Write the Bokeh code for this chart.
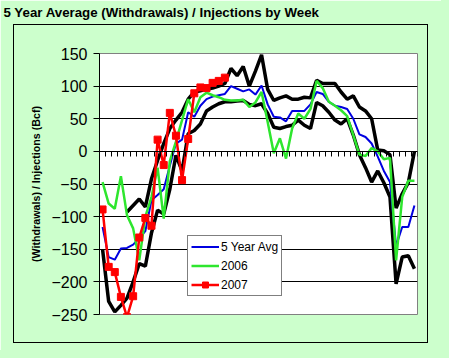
from bokeh.plotting import figure
from bokeh.models import (Range1d, LinearAxis, FixedTicker, Legend, LegendItem, Title,
                          InlineStyleSheet)
from bokeh.embed import file_html
from bokeh.resources import INLINE

nan = float("nan")

# ---- data ----
weeks = list(range(1, 53))

avg_5yr = [-116, -162, -166, -149, -148, -143, -133, -122, -75, -67,
           -58, -22, 12, 18, 60, 53, 70, 80, 84, 86,
           88, 100, 96, 92, 95, 87, 101, 72, 53, 52,
           46, 62, 62, 62, 72, 91, 88, 76, 70, 68,
           65, 50, 26, 22, 12, -8, -30, -47, -145, -116,
           -116, -83]

y2006 = [-47, -80, -88, -38, -98, -118, -167, -100, -70, -25,
         -103, -15, 15, 48, 80, 60, 83, 90, 86, 83,
         79, 78, 78, 79, 68, 75, 91, 45, -3, 20,
         -11, 35, 58, 50, 65, 108, 97, 76, 70, 63,
         54, 25, -5, -7, 5, 0, -12, -10, -167, -70,
         -45, -45]

weeks_2007 = list(range(1, 22))
y2007 = [-89, -177, -185, -223, -254, -222, -132, -102, -114, 18,
         -21, 59, 24, -44, 19, 89, 98, 97, 105, 108,
         113]

max_5yr = [nan, nan, nan, nan, -93, -83, -73, -85, -42, -14,
           12, 35, 48, 60, 80, 91, 93, 95, 97, 100,
           104, 127, 116, 130, 100, 123, 148, 95, 78, 82,
           85, 80, 80, 83, 82, 109, 104, 104, 104, 91,
           80, 85, 68, 62, 50, 2, 1, -5, -87, -65,
           -48, 0]

min_5yr = [-150, -230, -246, -236, -225, -200, -172, -176, -125, -90,
           -96, -58, -6, -30, 27, 32, 42, 62, 68, 73,
           76, 76, 77, 78, 72, 70, 73, 58, 37, 35,
           38, 40, 48, 40, 35, 75, 70, 60, 48, 42,
           50, 25, -5, -25, -47, -30, -48, -70, -203, -162,
           -160, -180]

y_ticks = [-250, -200, -150, -100, -50, 0, 50, 100, 150]
series_labels = ["5 Year Avg", "2006", "2007"]
title_text = "5 Year Average (Withdrawals) / Injections by Week"
y_label = "(Withdrawals) / Injections (Bcf)"

FONT = "Liberation Sans"
BG = "#CCFFCC"

p = figure(width=441, height=350, output_backend="svg", toolbar_location=None,
           x_range=Range1d(weeks[0] - 0.5, weeks[-1] + 0.5),
           y_range=Range1d(y_ticks[0], y_ticks[-1]),
           x_axis_location=None,
           min_border_left=99, min_border_right=24,
           min_border_top=53, min_border_bottom=36,
           background_fill_color="white", border_fill_color=BG,
           outline_line_color="#808080", outline_line_width=1)

# thin black chart-area border drawn over the figure, and the green
# background continued into the page margin around it
p.stylesheets = [InlineStyleSheet(css="""
:host { position: relative; overflow: visible; box-shadow: 0 0 0 8px #CCFFCC; }
:host::after {
  content: ""; display: block; position: absolute; z-index: 100;
  left: 13px; top: 24px; width: 413px; height: 317px;
  border: 1px solid #000; pointer-events: none;
}
""")]

# blank spacer between the chart title and the plot frame
p.add_layout(Title(text=" ", text_font_size="1px", standoff=31), "above")

# chart title
p.title.text = title_text
p.title.align = "left"
p.title.vertical_align = "bottom"
p.title.offset = -96
p.title.standoff = 0
p.title.text_font = FONT
p.title.text_font_style = "bold"
p.title.text_font_size = "13.3px"
p.title.text_color = "black"

p.xgrid.visible = False
p.ygrid.ticker = FixedTicker(ticks=y_ticks[1:-1])
p.ygrid.grid_line_color = "black"
p.ygrid.grid_line_width = 1

ya = p.yaxis[0]
ya.ticker = FixedTicker(ticks=y_ticks)
ya.major_label_text_font = FONT
ya.major_label_text_font_size = "16px"
ya.major_label_text_color = "black"
ya.major_label_standoff = 6
ya.major_tick_in = 0
ya.major_tick_out = 6
ya.major_tick_line_color = "black"
ya.minor_tick_line_color = None
ya.axis_line_color = "black"
ya.axis_label = y_label
ya.axis_label_text_font = FONT
ya.axis_label_text_font_style = "bold"
ya.axis_label_text_font_size = "10.7px"
ya.axis_label_text_color = "black"
ya.axis_label_standoff = 6

# category axis crossing at zero
bounds = [w - 0.5 for w in weeks] + [weeks[-1] + 0.5]
xa = LinearAxis(fixed_location=0, ticker=FixedTicker(ticks=bounds),
                major_label_text_font_size="1px", major_label_text_alpha=0,
                major_tick_in=0, major_tick_out=5, major_tick_line_color="black",
                minor_tick_line_color=None, axis_line_color="black")
p.add_layout(xa, "below")

p.line(weeks, min_5yr, line_color="black", line_width=3.5)
p.line(weeks, max_5yr, line_color="black", line_width=3.5)
r_avg = p.line(weeks, avg_5yr, line_color="#0000E0", line_width=2)
r_06 = p.line(weeks, y2006, line_color="#2EE62E", line_width=2.5)
r_07l = p.line(weeks_2007, y2007, line_color="#FF0000", line_width=2.5)
r_07s = p.scatter(weeks_2007, y2007, marker="square", size=7,
                  fill_color="#FF0000", line_color="#FF0000")

legend = Legend(items=[LegendItem(label=series_labels[0], renderers=[r_avg]),
                       LegendItem(label=series_labels[1], renderers=[r_06]),
                       LegendItem(label=series_labels[2], renderers=[r_07l, r_07s])],
                location=(88, 18), orientation="vertical",
                border_line_color="black", border_line_width=1,
                background_fill_color="white", background_fill_alpha=1,
                padding=3, spacing=4, margin=0,
                glyph_width=28, glyph_height=15, label_height=15,
                label_standoff=2, label_text_font=FONT,
                label_text_font_size="12px", label_text_color="black")
p.add_layout(legend)

open("out.html", "w").write(file_html(p, INLINE))
